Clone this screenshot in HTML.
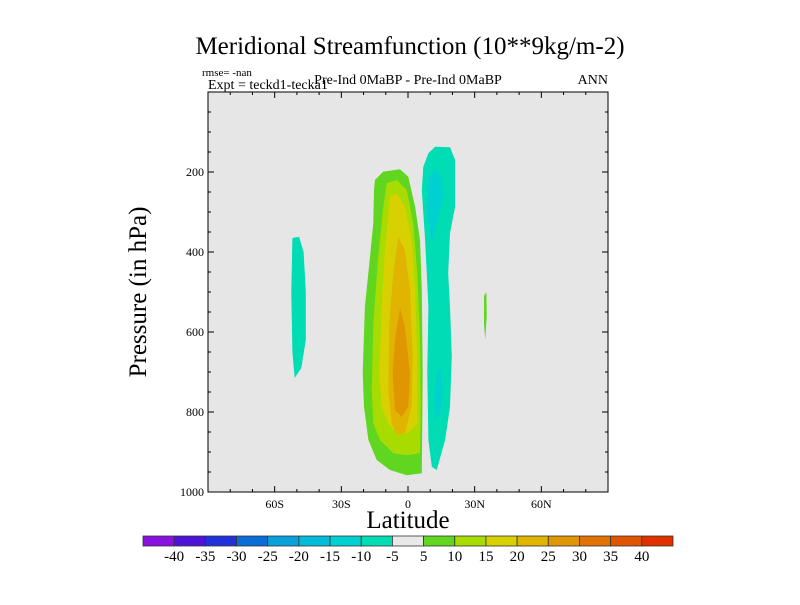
<!DOCTYPE html>
<html><head><meta charset="utf-8"><style>
html,body{margin:0;padding:0;background:#fff;}
svg text{font-family:"Liberation Serif",serif;fill:#000;}
</style></head><body>
<svg id="chart" width="800" height="600" viewBox="0 0 800 600" xmlns="http://www.w3.org/2000/svg">
<text x="410" y="54" font-size="25" text-anchor="middle">Meridional Streamfunction (10**9kg/m-2)</text>
<text x="202" y="76" font-size="11">rmse= -nan</text>
<text x="208" y="89" font-size="14">Expt = teckd1-tecka1</text>
<text x="408" y="84" font-size="14" text-anchor="middle">Pre-Ind 0MaBP - Pre-Ind 0MaBP</text>
<text x="608" y="84" font-size="14" text-anchor="end">ANN</text>
<rect x="208" y="92" width="400" height="400" fill="#e6e6e6"/>
<g id="fills"></g>
<g id="axes"></g>
<text transform="translate(146,292) rotate(-90)" font-size="25" text-anchor="middle">Pressure (in hPa)</text>
<text x="408" y="528" font-size="25" text-anchor="middle">Latitude</text>
<g id="colorbar"></g>
</svg>
<script>
const levels=[-40,-35,-30,-25,-20,-15,-10,-5,5,10,15,20,25,30,35,40];
const colors=["#8a12e0","#4d13d8","#1e32d8","#0a6cd6","#0aa0da","#00bcd8","#00d0d0","#00dcb4","#e8e8e8","#60d620","#a8dc00","#d8d000","#e0b400","#e09600","#e07200","#e05400","#e03000"];
const xTicks=[-60,-30,0,30,60];
const xTickLabels=["60S","30S","0","30N","60N"];
const yTicks=[200,400,600,800,1000];
// contour regions: [lat, pressure] points
const cellSouth5=[[-14.9,220],[-11.1,199],[-3.6,193],[0.15,212],[3.2,287],[5.4,370],[6.2,495],[6.6,703],[6.2,953],[-0.6,958],[-8.1,945],[-14.1,920],[-17.8,870],[-19.8,787],[-20.4,703],[-19.4,537],[-17.1,412],[-15.6,328],[-15.3,245]];
const cellSouth10=[[-9.6,228],[-5.1,220],[-0.6,245],[2.4,328],[4.2,453],[5.4,620],[5.7,787],[5.4,903],[-0.6,908],[-6.6,903],[-12.6,870],[-15.6,828],[-16.3,745],[-15.6,578],[-13.4,412],[-11.1,287]];
const cellSouth15=[[-8.1,262],[-5.1,253],[-1.4,287],[1.6,370],[3.2,495],[4.2,662],[4.2,828],[0.15,853],[-4.4,853],[-8.9,828],[-11.9,787],[-12.9,703],[-11.9,537],[-10.4,395],[-8.9,312]];
const cellSouth20=[[-4.4,362],[-1.4,395],[0.9,495],[2.1,662],[1.6,787],[-1.4,853],[-5.1,857],[-7.4,828],[-8.9,745],[-8.4,578],[-6.6,453]];
const cellSouth25=[[-3.6,541],[-1.4,587],[0.9,703],[0.15,787],[-2.9,812],[-5.9,795],[-6.9,703],[-5.9,620]];
const cellNorthM5=[[9.2,153],[12.2,137],[18.9,138],[21.2,170],[21.2,287],[18.9,353],[18.1,453],[18.9,537],[19.7,662],[18.9,787],[16.7,870],[12.9,945],[10.7,937],[9.2,870],[8.7,703],[9.2,537],[7.7,370],[6.2,245],[6.9,187]];
const cellNorthM10a=[[9.2,212],[12.2,195],[15.2,212],[15.9,262],[12.9,328],[10.7,378],[9.2,328],[8.4,253]];
const cellNorthM10b=[[14.4,687],[15.6,745],[14.4,803],[12.2,820],[11.9,753],[13.2,703]];
const cellSouthPolarM5=[[-52,365],[-49,362],[-47,400],[-46,500],[-46,620],[-48,690],[-51,715],[-52,650],[-52.5,500]];
const cellNorth5=[[34.2,510],[35.3,500],[35.4,560],[34.8,620],[34.2,580]];
const regions=[[cellSouth5,9],[cellSouth10,10],[cellSouth15,11],[cellSouth20,12],[cellSouth25,13],[cellNorthM5,7],[cellNorthM10a,6],[cellNorthM10b,6],[cellSouthPolarM5,7],[cellNorth5,9]];

const X0=208,X1=608,Y0=92,Y1=492;
const xs=lat=>X0+(lat+90)/180*(X1-X0);
const ys=p=>Y0+p/1000*(Y1-Y0);
const NS="http://www.w3.org/2000/svg";
const mk=(t,a,parent)=>{const e=document.createElementNS(NS,t);for(const k in a)e.setAttribute(k,a[k]);parent.appendChild(e);return e;};
const fills=document.getElementById('fills');
regions.forEach(r=>{
  const el=mk('polygon',{points:r[0].map(p=>xs(p[0]).toFixed(1)+','+ys(p[1]).toFixed(1)).join(' '),fill:colors[r[1]]},fills);
  
  
});
const axes=document.getElementById('axes');
const frame=mk('rect',{x:X0,y:Y0,width:X1-X0,height:Y1-Y0,fill:'none',stroke:'#000','stroke-width':1},axes);


for(let lat=-80;lat<=80;lat+=10){
  const major=lat%30===0;const L=major?6:3;const x=xs(lat);
  mk('line',{x1:x,x2:x,y1:Y1,y2:Y1-L,stroke:'#000'},axes);
  mk('line',{x1:x,x2:x,y1:Y0,y2:Y0+L,stroke:'#000'},axes);
}
for(let p=50;p<1000;p+=50){
  const major=p%200===0;const L=major?6:3;const y=ys(p);
  mk('line',{x1:X0,x2:X0+L,y1:y,y2:y,stroke:'#000'},axes);
  mk('line',{x1:X1,x2:X1-L,y1:y,y2:y,stroke:'#000'},axes);
}
xTicks.forEach((v,i)=>{
  const t=mk('text',{x:xs(v),y:Y1+16,'font-size':12,'text-anchor':'middle'},axes);
  t.textContent=xTickLabels[i];
  
  
});
yTicks.forEach(v=>{
  const t=mk('text',{x:X0-4,y:ys(v)+4,'font-size':12,'text-anchor':'end'},axes);
  t.textContent=String(v);
  
  
});
const cb=document.getElementById('colorbar');
const CB0=143,CB1=673,CBY=536,CBH=10,n=colors.length,w=(CB1-CB0)/n;
colors.forEach((c,i)=>{
  const r=mk('rect',{x:CB0+i*w,y:CBY,width:w,height:CBH,fill:c,stroke:'#333','stroke-width':0.8},cb);
  
  
});
levels.forEach((v,i)=>{
  const t=mk('text',{x:CB0+(i+1)*w,y:CBY+25,'font-size':15,'text-anchor':'middle'},cb);
  t.textContent=String(v);
  
  
});
</script>
</body></html>
